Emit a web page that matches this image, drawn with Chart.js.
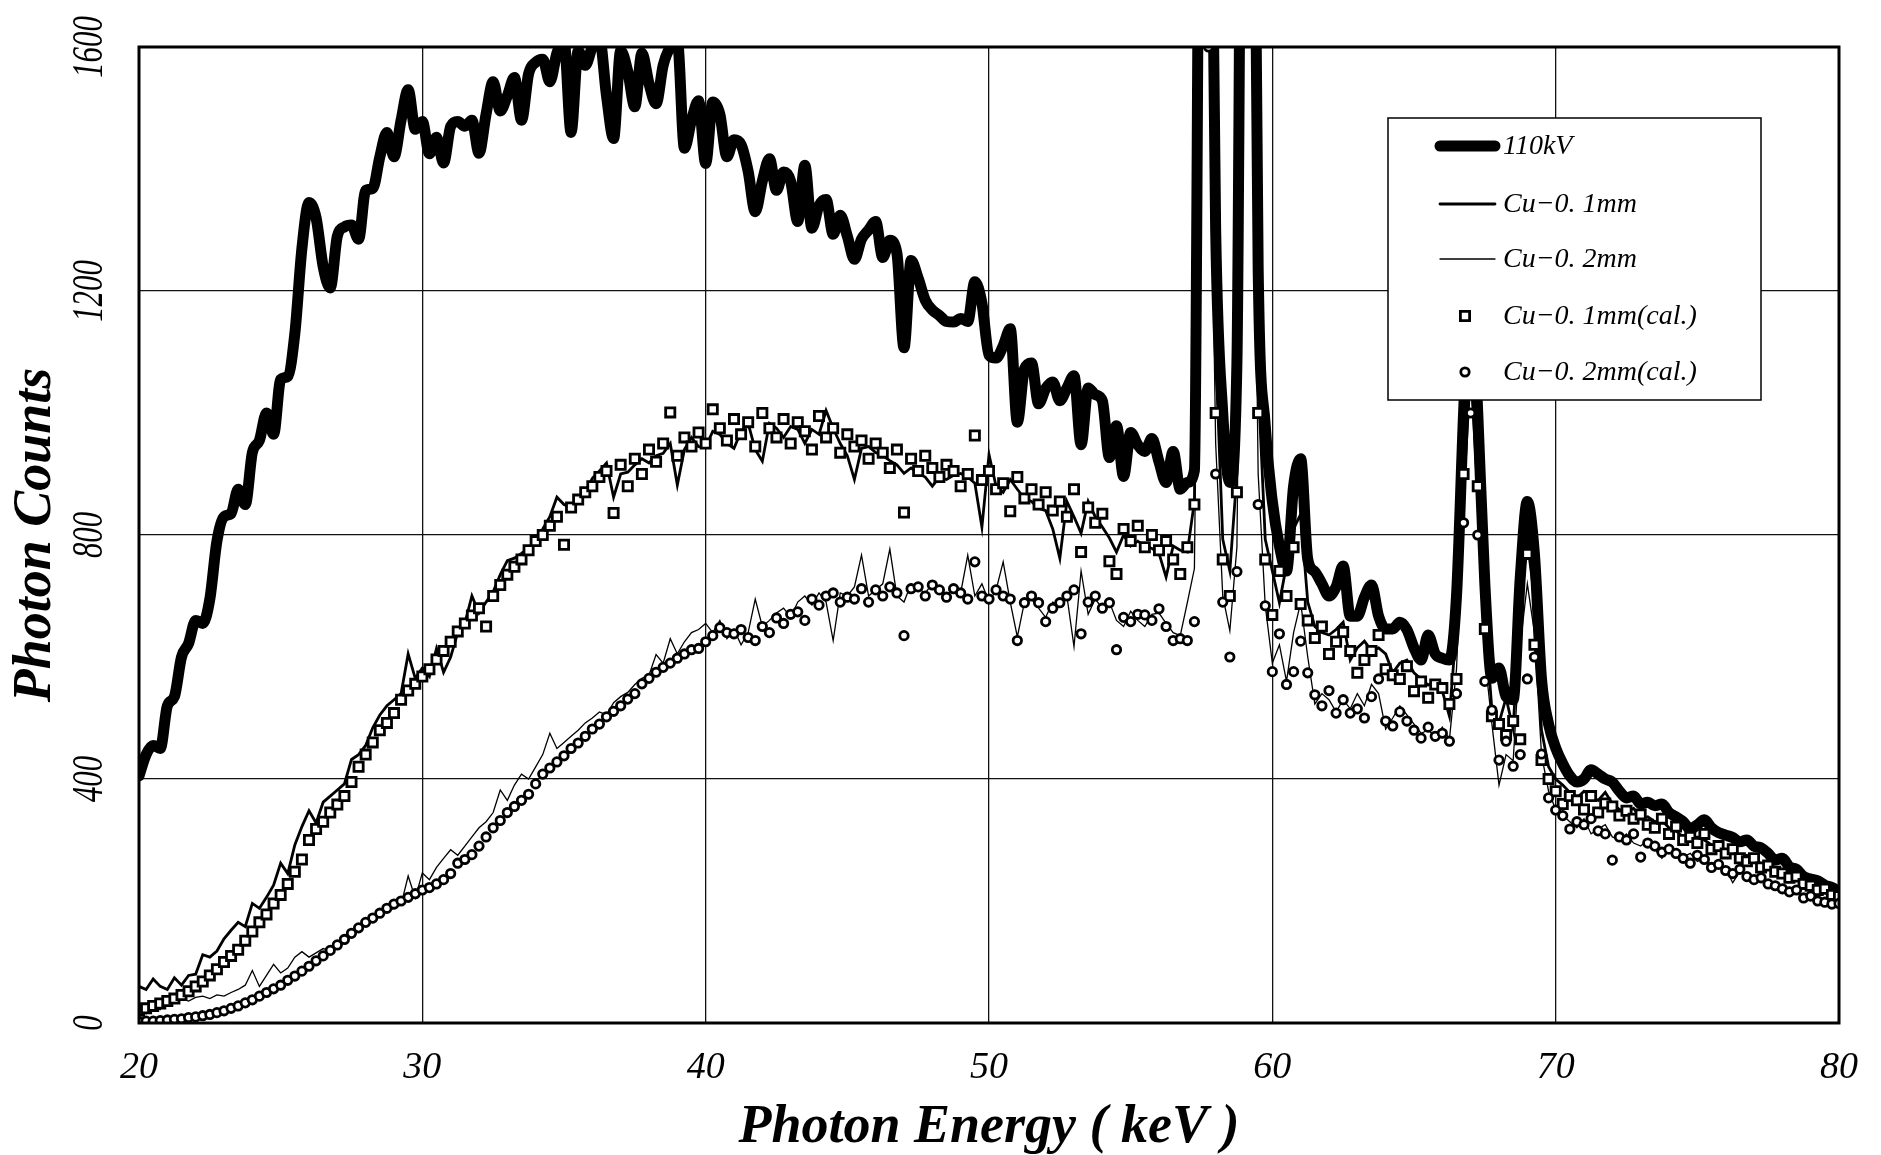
<!DOCTYPE html>
<html lang="en">
<head>
<meta charset="UTF-8" />
<title>Photon Counts vs Photon Energy</title>
<script src="https://cdn.jsdelivr.net/npm/chart.js"></script>
<style>
  html, body { margin: 0; padding: 0; background: #fff; }
  #wrap { width: 1881px; height: 1155px; }
</style>
</head>
<body>
<div id="wrap"><canvas id="spectrum" width="1881" height="1155"></canvas></div>
<script>
// photon energy (keV), one sample every 0.25 keV
const energies = [
  20, 20.25, 20.5, 20.75, 21, 21.25, 21.5, 21.75,
  22, 22.25, 22.5, 22.75, 23, 23.25, 23.5, 23.75,
  24, 24.25, 24.5, 24.75, 25, 25.25, 25.5, 25.75,
  26, 26.25, 26.5, 26.75, 27, 27.25, 27.5, 27.75,
  28, 28.25, 28.5, 28.75, 29, 29.25, 29.5, 29.75,
  30, 30.25, 30.5, 30.75, 31, 31.25, 31.5, 31.75,
  32, 32.25, 32.5, 32.75, 33, 33.25, 33.5, 33.75,
  34, 34.25, 34.5, 34.75, 35, 35.25, 35.5, 35.75,
  36, 36.25, 36.5, 36.75, 37, 37.25, 37.5, 37.75,
  38, 38.25, 38.5, 38.75, 39, 39.25, 39.5, 39.75,
  40, 40.25, 40.5, 40.75, 41, 41.25, 41.5, 41.75,
  42, 42.25, 42.5, 42.75, 43, 43.25, 43.5, 43.75,
  44, 44.25, 44.5, 44.75, 45, 45.25, 45.5, 45.75,
  46, 46.25, 46.5, 46.75, 47, 47.25, 47.5, 47.75,
  48, 48.25, 48.5, 48.75, 49, 49.25, 49.5, 49.75,
  50, 50.25, 50.5, 50.75, 51, 51.25, 51.5, 51.75,
  52, 52.25, 52.5, 52.75, 53, 53.25, 53.5, 53.75,
  54, 54.25, 54.5, 54.75, 55, 55.25, 55.5, 55.75,
  56, 56.25, 56.5, 56.75, 57, 57.25, 57.5, 57.75,
  58, 58.25, 58.5, 58.75, 59, 59.25, 59.5, 59.75,
  60, 60.25, 60.5, 60.75, 61, 61.25, 61.5, 61.75,
  62, 62.25, 62.5, 62.75, 63, 63.25, 63.5, 63.75,
  64, 64.25, 64.5, 64.75, 65, 65.25, 65.5, 65.75,
  66, 66.25, 66.5, 66.75, 67, 67.25, 67.5, 67.75,
  68, 68.25, 68.5, 68.75, 69, 69.25, 69.5, 69.75,
  70, 70.25, 70.5, 70.75, 71, 71.25, 71.5, 71.75,
  72, 72.25, 72.5, 72.75, 73, 73.25, 73.5, 73.75,
  74, 74.25, 74.5, 74.75, 75, 75.25, 75.5, 75.75,
  76, 76.25, 76.5, 76.75, 77, 77.25, 77.5, 77.75,
  78, 78.25, 78.5, 78.75, 79, 79.25, 79.5, 79.75,
  80
];

// 110kV, no filter (measured)
const counts110kV = [
  405, 440, 455, 450, 520, 535, 600, 622,
  660, 655, 695, 790, 830, 835, 875, 850,
  935, 955, 1000, 965, 1055, 1060, 1130, 1270,
  1345, 1320, 1240, 1205, 1290, 1305, 1308, 1285,
  1365, 1368, 1420, 1460, 1420, 1480, 1530, 1465,
  1478, 1425, 1452, 1410, 1470, 1478, 1470, 1480,
  1426, 1490, 1543, 1495, 1520, 1550, 1480, 1556,
  1575, 1580, 1543, 1590, 1610, 1460, 1594, 1570,
  1600, 1615, 1520, 1450, 1594, 1560, 1502, 1590,
  1540, 1507, 1570, 1600, 1610, 1434, 1480, 1512,
  1409, 1510, 1490, 1420, 1448, 1440, 1396, 1330,
  1380, 1417, 1365, 1395, 1380, 1314, 1406, 1303,
  1340, 1350, 1293, 1324, 1290, 1252, 1285, 1300,
  1314, 1255, 1283, 1262, 1107, 1250, 1221, 1185,
  1169, 1160, 1150, 1149, 1155, 1150, 1215, 1180,
  1095, 1090, 1110, 1138, 985, 1072, 1082, 1015,
  1040, 1051, 1020, 1041, 1061, 948, 1041, 1030,
  1020, 927, 979, 896, 968, 948, 937, 958,
  920, 886, 937, 875, 886, 906, 2400, 2300,
  1300, 1000, 886, 1082, 2600, 2500, 1237, 979,
  855, 782, 741, 880, 925, 760, 740, 720,
  700, 715, 749, 667, 667, 698, 718, 667,
  646, 646, 657, 645, 615, 595, 636, 605,
  598, 595, 700, 1000, 1250, 1000, 720, 565,
  582, 535, 530, 730, 855, 769, 564, 490,
  451, 425, 405, 395, 400, 415, 408, 400,
  395, 380, 369, 372, 359, 362, 356, 359,
  345, 338, 330, 318, 325, 333, 320, 312,
  308, 304, 297, 300, 290, 287, 278, 267,
  270, 256, 252, 240, 236, 233, 226, 222,
  215
];

// Cu-0.1mm filter (measured)
const countsCu01 = [
  60, 55, 72, 60, 55, 74, 62, 78,
  80, 112, 108, 118, 138, 152, 165, 158,
  196, 188, 206, 226, 262, 245, 292, 322,
  348, 328, 362, 372, 382, 392, 432, 440,
  455, 484, 505, 520, 530, 540, 605, 565,
  582, 568, 614, 575, 600, 640, 655, 700,
  672, 690, 707, 735, 758, 762, 770, 779,
  790, 810, 830, 862, 850, 845, 862, 870,
  893, 905, 918, 862, 900, 903, 915, 925,
  918, 930, 934, 950, 882, 940, 960, 945,
  944, 970, 965, 950, 942, 970, 983, 940,
  921, 983, 975, 960, 978, 973, 950, 973,
  965, 1004, 975, 950, 930, 891, 942, 945,
  935, 930, 922, 915, 901, 910, 901, 895,
  880, 895, 891, 898, 901, 895, 885, 813,
  932, 880, 870, 891, 875, 860, 855, 844,
  840, 810, 762, 855, 830, 803, 855, 830,
  813, 795, 772, 800, 782, 790, 782, 778,
  770, 731, 782, 775, 772, 855, 2100, 2000,
  1100, 793, 741, 900, 2300, 2200, 1050, 793,
  741, 689, 751, 810, 834, 690, 650, 640,
  636, 645, 657, 595, 615, 626, 610, 615,
  605, 574, 590, 595, 574, 564, 554, 560,
  544, 503, 650, 950, 1150, 920, 667, 513,
  492, 533, 482, 690, 790, 698, 480, 420,
  400, 390, 378, 369, 380, 372, 365, 378,
  360, 350, 345, 352, 335, 338, 330, 332,
  320, 315, 305, 298, 305, 300, 292, 288,
  282, 280, 272, 275, 266, 262, 255, 250,
  248, 240, 236, 228, 222, 220, 214, 210,
  205
];

// Cu-0.2mm filter (measured)
const countsCu02 = [
  24, 15, 28, 22, 38, 35, 40, 36,
  42, 44, 40, 46, 44, 50, 55, 62,
  86, 60, 78, 96, 82, 90, 108, 117,
  108, 115, 122, 118, 130, 143, 150, 158,
  165, 179, 176, 184, 188, 194, 241, 205,
  246, 235, 255, 270, 284, 275, 290, 305,
  320, 330, 345, 382, 365, 390, 408, 400,
  420, 440, 475, 450, 460, 470, 480, 492,
  500, 510, 505, 525, 535, 542, 555, 565,
  570, 604, 590, 630, 605, 625, 640, 645,
  655, 640, 660, 630, 645, 620, 640, 695,
  650, 660, 672, 680, 665, 690, 700, 685,
  705, 690, 627, 705, 700, 715, 767, 700,
  710, 720, 777, 700, 690, 720, 712, 705,
  720, 708, 700, 715, 705, 767, 700, 720,
  690, 710, 756, 690, 633, 690, 695, 680,
  665, 690, 685, 700, 617, 741, 670, 695,
  680, 690, 660, 650, 675, 660, 650, 670,
  672, 655, 640, 635, 689, 745, 1800, 1700,
  950, 700, 643, 780, 1900, 1850, 900, 684,
  590, 620, 560, 640, 689, 600, 523, 540,
  530, 510, 530, 515, 540, 520, 555, 540,
  482, 500, 520, 505, 490, 475, 480, 470,
  485, 465, 580, 850, 1050, 850, 600, 490,
  390, 440, 430, 620, 720, 640, 440, 380,
  350, 340, 330, 320, 335, 310, 318, 325,
  305, 300, 310, 295, 290, 300, 285, 270,
  290, 280, 272, 278, 265, 270, 258, 262,
  252, 230, 248, 240, 238, 232, 225, 230,
  220, 212, 218, 205, 210, 200, 202, 195,
  198
];

// Cu-0.1mm (calculated)
const calcCu01 = [
  20, 24, 28, 32, 36, 40, 46, 52,
  60, 68, 78, 88, 100, 110, 120, 135,
  150, 165, 178, 196, 210, 228, 248, 268,
  300, 318, 330, 345, 358, 372, 395, 420,
  440, 460, 480, 492, 508, 530, 545, 556,
  568, 580, 596, 610, 625, 642, 655, 668,
  680, 650, 700, 718, 735, 748, 760, 775,
  790, 800, 815, 830, 784, 845, 858, 870,
  880, 895, 905, 836, 915, 880, 925, 900,
  940, 920, 950, 1001, 930, 960, 945, 968,
  950, 1006, 975, 955, 990, 965, 985, 945,
  1000, 975, 960, 990, 950, 985, 970, 940,
  995, 960, 975, 935, 965, 945, 955, 925,
  950, 935, 910, 940, 837, 925, 905, 930,
  910, 895, 915, 905, 880, 900, 963, 890,
  905, 875, 885, 839, 895, 860, 875, 850,
  870, 840, 855, 830, 875, 772, 845, 820,
  835, 757, 736, 810, 790, 815, 780, 800,
  775, 790, 760, 736, 780, 850, 2000, 1900,
  1000, 760, 700, 870, 2200, 2100, 1000, 760,
  669, 741, 700, 780, 687, 660, 631, 650,
  605, 625, 641, 610, 574, 595, 610, 636,
  580, 570, 564, 585, 544, 560, 533, 555,
  549, 523, 564, 900, 1100, 880, 646, 503,
  490, 472, 495, 465, 769, 620, 431, 400,
  380, 359, 372, 365, 350, 372, 345, 360,
  355, 340, 348, 335, 342, 325, 320, 335,
  310, 322, 300, 305, 295, 310, 285, 290,
  278, 285, 270, 265, 270, 255, 258, 248,
  245, 238, 240, 228, 225, 218, 220, 210,
  208
];

// Cu-0.2mm (calculated)
const calcCu02 = [
  2, 3, 3, 4, 5, 6, 7, 9,
  10, 12, 14, 17, 20, 24, 28, 33,
  38, 44, 50, 56, 62, 70, 77, 85,
  93, 102, 110, 119, 128, 137, 147, 156,
  165, 172, 180, 188, 195, 200, 206, 212,
  218, 222, 228, 235, 245, 262, 268, 276,
  290, 305, 320, 332, 345, 355, 365, 375,
  392, 408, 418, 428, 438, 450, 459, 470,
  482, 490, 502, 511, 520, 531, 540, 556,
  565, 575, 583, 590, 598, 605, 612, 614,
  625, 635, 648, 640, 638, 645, 632, 627,
  650, 640, 664, 655, 670, 674, 660, 695,
  685, 700, 705, 690, 698, 695, 712, 690,
  710, 700, 715, 705, 635, 712, 715, 700,
  718, 710, 698, 712, 705, 695, 756, 700,
  695, 710, 700, 695, 627, 689, 700, 689,
  658, 680, 689, 700, 710, 638, 690, 700,
  680, 689, 612, 665, 658, 670, 669, 660,
  679, 650, 627, 630, 627, 658, 1700, 1600,
  900, 690, 600, 740, 1800, 1750, 850, 684,
  576, 638, 555, 576, 626, 574, 538, 520,
  545, 508, 530, 508, 515, 500, 535, 564,
  495, 487, 510, 495, 480, 467, 485, 470,
  475, 462, 540, 820, 1000, 800, 560, 513,
  431, 462, 421, 440, 564, 600, 441, 369,
  349, 340, 318, 330, 325, 335, 315, 310,
  267, 305, 300, 310, 272, 295, 290, 280,
  285, 278, 270, 262, 275, 268, 255, 260,
  250, 245, 252, 240, 235, 238, 228, 225,
  220, 215, 218, 205, 208, 200, 198, 195,
  196
];

const yTickValues = [0, 400, 800, 1200, 1600];
const seriesNames = ["110kV", "Cu\u22120. 1mm", "Cu\u22120. 2mm", "Cu\u22120. 1mm(cal.)", "Cu\u22120. 2mm(cal.)"];

const SERIF = '"Liberation Serif", "DejaVu Serif", serif';

function toPoints(values) {
  return energies.map((e, i) => ({ x: e, y: values[i] }));
}

// y tick labels are rotated in the original, Chart.js can't rotate vertical-axis ticks
const rotatedYLabels = {
  id: "rotatedYLabels",
  afterDraw(chart) {
    const ctx = chart.ctx;
    const y = chart.scales.y;
    ctx.save();
    ctx.fillStyle = "#000";
    ctx.font = "italic 44px " + SERIF;
    ctx.textAlign = "center";
    ctx.textBaseline = "middle";
    yTickValues.forEach(v => {
      ctx.save();
      ctx.translate(90, y.getPixelForValue(v));
      ctx.rotate(-Math.PI / 2);
      ctx.scale(0.7, 1);
      ctx.fillText(String(v), 0, 0);
      ctx.restore();
    });
    ctx.restore();
  }
};

// heavy frame round the plot + boxed legend inside the plot
const frameAndLegend = {
  id: "frameAndLegend",
  afterDatasetsDraw(chart) {
    const { ctx, chartArea: a } = chart;
    ctx.save();
    ctx.strokeStyle = "#000";
    ctx.lineWidth = 3;
    ctx.strokeRect(a.left, a.top, a.right - a.left, a.bottom - a.top);
    ctx.restore();
  },
  afterDraw(chart) {
    const ctx = chart.ctx;
    const box = { x: 1388, y: 118, w: 373, h: 282 };
    const rows = [146, 204, 259, 316, 372];
    ctx.save();
    ctx.fillStyle = "#fff";
    ctx.fillRect(box.x, box.y, box.w, box.h);
    ctx.strokeStyle = "#000";
    ctx.lineWidth = 1.5;
    ctx.strokeRect(box.x, box.y, box.w, box.h);

    chart.data.datasets.forEach((ds, i) => {
      const yy = rows[i];
      ctx.strokeStyle = "#000";
      if (ds.showLine !== false) {
        ctx.lineWidth = ds.borderWidth;
        ctx.lineCap = "round";
        ctx.beginPath();
        ctx.moveTo(1440, yy);
        ctx.lineTo(1495, yy);
        ctx.stroke();
      } else {
        ctx.lineWidth = ds.pointBorderWidth;
        ctx.fillStyle = "#fff";
        ctx.beginPath();
        if (ds.pointStyle === "rect") {
          const s = ds.pointRadius * Math.SQRT1_2;
          ctx.rect(1465 - s, yy - s, 2 * s, 2 * s);
        } else {
          ctx.arc(1465, yy, ds.pointRadius, 0, Math.PI * 2);
        }
        ctx.fill();
        ctx.stroke();
      }
      ctx.fillStyle = "#000";
      ctx.font = "italic 28px " + SERIF;
      ctx.textAlign = "left";
      ctx.textBaseline = "middle";
      ctx.fillText(ds.label, 1503, yy + 1);
    });
    ctx.restore();
  }
};

const chart = new Chart(document.getElementById("spectrum"), {
  type: "line",
  data: {
    datasets: [
      {
        label: seriesNames[0],
        data: toPoints(counts110kV),
        borderColor: "#000",
        borderWidth: 11,
        borderJoinStyle: "round",
        borderCapStyle: "round",
        cubicInterpolationMode: "monotone",
        pointRadius: 0,
        order: 5
      },
      {
        label: seriesNames[1],
        data: toPoints(countsCu01),
        borderColor: "#000",
        borderWidth: 2.8,
        pointRadius: 0,
        order: 4
      },
      {
        label: seriesNames[2],
        data: toPoints(countsCu02),
        borderColor: "#000",
        borderWidth: 1.3,
        pointRadius: 0,
        order: 3
      },
      {
        label: seriesNames[3],
        data: toPoints(calcCu01),
        showLine: false,
        pointStyle: "rect",
        pointRadius: 6.5,
        pointBorderWidth: 2.8,
        pointBackgroundColor: "#fff",
        pointBorderColor: "#000",
        order: 2
      },
      {
        label: seriesNames[4],
        data: toPoints(calcCu02),
        showLine: false,
        pointStyle: "circle",
        pointRadius: 4.2,
        pointBorderWidth: 2.8,
        pointBackgroundColor: "#fff",
        pointBorderColor: "#000",
        order: 1
      }
    ]
  },
  options: {
    responsive: false,
    animation: false,
    events: [],
    layout: { padding: { top: 47, right: 42, left: 0, bottom: 0 } },
    plugins: {
      legend: { display: false },
      tooltip: { enabled: false }
    },
    scales: {
      x: {
        type: "linear",
        min: 20,
        max: 80,
        afterFit(scale) { scale.height = 132; },
        border: { display: false },
        grid: { color: "#111", lineWidth: 1.3, drawTicks: false },
        ticks: {
          stepSize: 10,
          maxRotation: 0,
          padding: 22,
          color: "#000",
          font: { family: SERIF, size: 38, style: "italic" }
        },
        title: {
          display: true,
          text: "Photon Energy ( keV )",
          color: "#000",
          padding: { top: 0, bottom: 0 },
          font: { family: SERIF, size: 54, style: "italic", weight: "bold", lineHeight: 1 }
        }
      },
      y: {
        min: 0,
        max: 1600,
        afterFit(scale) { scale.width = 139; },
        border: { display: false },
        grid: { color: "#111", lineWidth: 1.3, drawTicks: false },
        ticks: { stepSize: 400, display: false },
        title: {
          display: true,
          text: "Photon Counts",
          color: "#000",
          padding: { top: 9, bottom: 0 },
          font: { family: SERIF, size: 54, style: "italic", weight: "bold", lineHeight: 1 }
        }
      }
    }
  },
  plugins: [rotatedYLabels, frameAndLegend]
});
</script>
</body>
</html>
